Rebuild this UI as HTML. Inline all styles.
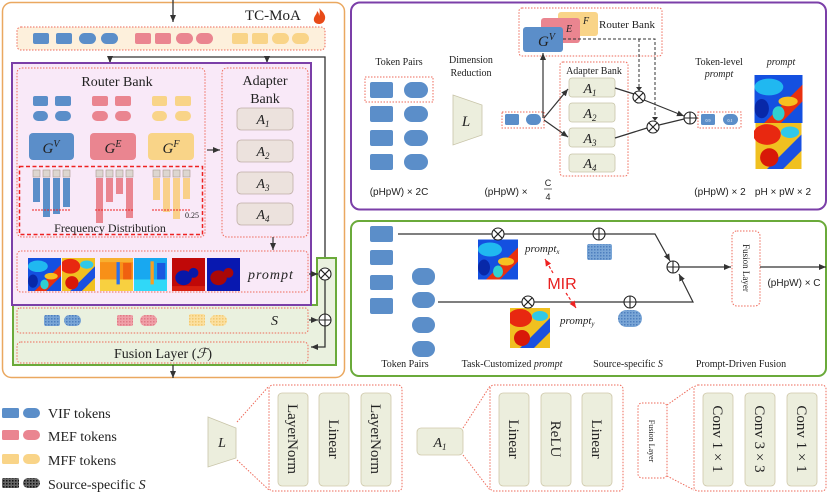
<!DOCTYPE html>
<html><head><meta charset="utf-8"><style>
html,body{margin:0;padding:0;background:#fff}
svg{display:block}
text{font-family:"Liberation Serif",serif;fill:#222}
.i{font-style:italic}
</style></head><body>
<svg width="830" height="494" viewBox="0 0 830 494" xmlns="http://www.w3.org/2000/svg">
<defs>
<marker id="ar" markerWidth="8" markerHeight="8" refX="7" refY="4" orient="auto" markerUnits="userSpaceOnUse"><path d="M0,1 L7,4 L0,7 z" fill="#333"/></marker>
<marker id="arr" markerWidth="8" markerHeight="8" refX="7" refY="4" orient="auto" markerUnits="userSpaceOnUse"><path d="M0,1 L7,4 L0,7 z" fill="#e22"/></marker>
<pattern id="hb" width="3" height="3" patternUnits="userSpaceOnUse"><rect width="3" height="3" fill="#7aa6d6"/><rect width="1.5" height="1.5" fill="#4d7fbe"/></pattern>
<pattern id="hp" width="3" height="3" patternUnits="userSpaceOnUse"><rect width="3" height="3" fill="#f0a0a8"/><rect width="1.5" height="1.5" fill="#e07a86"/></pattern>
<pattern id="hy" width="3" height="3" patternUnits="userSpaceOnUse"><rect width="3" height="3" fill="#fbe0a0"/><rect width="1.5" height="1.5" fill="#f2c870"/></pattern>
<pattern id="hk" width="3" height="3" patternUnits="userSpaceOnUse"><rect width="3" height="3" fill="#666"/><rect width="1.5" height="1.5" fill="#111"/></pattern>
<symbol id="hA" viewBox="0 0 40 40"><rect width="40" height="40" fill="#1450e0"/><ellipse cx="12" cy="10" rx="12" ry="7" fill="#20b8f0"/><path d="M8,40 L40,8 L40,22 L22,40z" fill="#e83010"/><ellipse cx="28" cy="22" rx="8" ry="4" fill="#f8c020"/><ellipse cx="6" cy="28" rx="6" ry="8" fill="#0828a8"/><ellipse cx="20" cy="32" rx="5" ry="6" fill="#30d0d0"/></symbol>
<symbol id="hB" viewBox="0 0 40 40"><rect width="40" height="40" fill="#f0c020"/><ellipse cx="10" cy="10" rx="12" ry="9" fill="#e82810"/><path d="M10,40 L40,10 L40,24 L24,40z" fill="#1a50e0"/><ellipse cx="12" cy="30" rx="8" ry="8" fill="#d81808"/><ellipse cx="30" cy="8" rx="8" ry="5" fill="#30c8e8"/></symbol>
<symbol id="hC" viewBox="0 0 40 40"><rect width="40" height="40" fill="#f89018"/><rect y="26" width="40" height="14" fill="#f8d040"/><rect x="20" y="4" width="4" height="28" fill="#2870f0"/><rect x="28" y="6" width="10" height="20" fill="#f06010"/><rect x="0" y="0" width="40" height="5" fill="#f8b030"/></symbol>
<symbol id="hD" viewBox="0 0 40 40"><rect width="40" height="40" fill="#18a8f0"/><rect y="26" width="40" height="14" fill="#30d8f8"/><rect x="20" y="4" width="4" height="28" fill="#f8a020"/><rect x="28" y="6" width="10" height="20" fill="#1858e0"/></symbol>
<symbol id="hE" viewBox="0 0 40 40"><rect width="40" height="40" fill="#c00808"/><ellipse cx="14" cy="24" rx="10" ry="9" fill="#0818a8"/><ellipse cx="26" cy="18" rx="6" ry="6" fill="#0818a8"/><rect x="0" y="34" width="40" height="6" fill="#d82010"/></symbol>
<symbol id="hF" viewBox="0 0 40 40"><rect width="40" height="40" fill="#0818b0"/><ellipse cx="14" cy="24" rx="10" ry="9" fill="#a80808"/><ellipse cx="26" cy="18" rx="6" ry="6" fill="#a80808"/></symbol>
</defs>

<!-- ===== LEFT PANEL ===== -->
<rect x="2.5" y="2.5" width="342" height="375" rx="9" fill="#fff" stroke="#eaa860" stroke-width="1.5"/>
<line x1="173" y1="0" x2="173" y2="22" stroke="#333" stroke-width="1.3" marker-end="url(#ar)"/>
<text x="245" y="20" font-size="15">TC-MoA</text>
<path d="M319,8 C323,12 326,15 325,19 C324,23 321,24 319,24 C316,24 313,22 314,18 C315,15 317,14 317,11 C319,13 319,14 319,16 C320,13 320,10 319,8z" fill="#e84a18"/>
<rect x="17" y="27" width="308" height="23" rx="4" fill="#fdf0dc" stroke="#ee6a5a" stroke-width="1" stroke-dasharray="1.5,1.5"/>
<g fill="#5b8ec9"><rect x="33" y="33" width="16" height="11" rx="2"/><rect x="56" y="33" width="16" height="11" rx="2"/><rect x="79" y="33" width="17" height="11" rx="5.5"/><rect x="101" y="33" width="17" height="11" rx="5.5"/></g>
<g fill="#ea8590"><rect x="135" y="33" width="16" height="11" rx="2"/><rect x="155" y="33" width="16" height="11" rx="2"/><rect x="176" y="33" width="17" height="11" rx="5.5"/><rect x="196" y="33" width="17" height="11" rx="5.5"/></g>
<g fill="#f9d488"><rect x="232" y="33" width="16" height="11" rx="2"/><rect x="252" y="33" width="16" height="11" rx="2"/><rect x="272" y="33" width="17" height="11" rx="5.5"/><rect x="292" y="33" width="17" height="11" rx="5.5"/></g>
<polyline points="110,62 110,57 325,57 325,267" fill="none" stroke="#333" stroke-width="1.3"/>
<line x1="110" y1="57" x2="110" y2="63" stroke="#333" stroke-width="1.3" marker-end="url(#ar)"/>
<line x1="267" y1="57" x2="267" y2="63" stroke="#333" stroke-width="1.3" marker-end="url(#ar)"/>

<!-- green box -->
<path d="M317,258 L336,258 L336,365 L13,365 L13,305 L317,305 z" fill="#eaf1df" stroke="#6aaa3a" stroke-width="2"/>
<!-- purple box -->
<rect x="12" y="63" width="299" height="242" fill="#f9e9f8" stroke="#7b3fa8" stroke-width="2"/>

<!-- router bank -->
<rect x="17" y="68" width="188" height="169" rx="5" fill="none" stroke="#ee6a5a" stroke-width="1" stroke-dasharray="1.5,1.5"/>
<text x="117" y="86" font-size="14" text-anchor="middle">Router Bank</text>
<g fill="#5b8ec9"><rect x="33" y="96" width="15" height="10" rx="2"/><rect x="55" y="96" width="16" height="10" rx="2"/><rect x="33" y="111" width="15" height="10" rx="5"/><rect x="55" y="111" width="16" height="10" rx="5"/></g>
<g fill="#ea8590"><rect x="92" y="96" width="16" height="10" rx="2"/><rect x="115" y="96" width="16" height="10" rx="2"/><rect x="92" y="111" width="16" height="10" rx="5"/><rect x="115" y="111" width="16" height="10" rx="5"/></g>
<g fill="#f9d488"><rect x="152" y="96" width="15" height="10" rx="2"/><rect x="175" y="96" width="16" height="10" rx="2"/><rect x="152" y="111" width="15" height="10" rx="5"/><rect x="175" y="111" width="16" height="10" rx="5"/></g>
<rect x="29" y="133" width="45" height="27" rx="4" fill="#5b8ec9"/>
<rect x="90" y="133" width="46" height="27" rx="4" fill="#ea8590"/>
<rect x="148" y="133" width="46" height="27" rx="4" fill="#f9d488"/>
<text x="51" y="153" font-size="15" class="i" text-anchor="middle">G<tspan font-size="10" dy="-6">V</tspan></text>
<text x="113" y="153" font-size="15" class="i" text-anchor="middle">G<tspan font-size="10" dy="-6">E</tspan></text>
<text x="171" y="153" font-size="15" class="i" text-anchor="middle">G<tspan font-size="10" dy="-6">F</tspan></text>
<line x1="207" y1="150" x2="220" y2="150" stroke="#333" stroke-width="1.2" marker-end="url(#ar)"/>
<!-- frequency -->
<rect x="19.5" y="166.5" width="183" height="68" fill="none" stroke="#ee2222" stroke-width="1.5" stroke-dasharray="4,2.5"/>
<g fill="#ddd6d0" stroke="#a89890" stroke-width="0.6">
<rect x="33" y="170" width="7" height="7"/><rect x="43" y="170" width="7" height="7"/><rect x="53" y="170" width="7" height="7"/><rect x="63" y="170" width="7" height="7"/>
<rect x="96" y="170" width="7" height="7"/><rect x="106" y="170" width="7" height="7"/><rect x="116" y="170" width="7" height="7"/><rect x="126" y="170" width="7" height="7"/>
<rect x="153" y="170" width="7" height="7"/><rect x="163" y="170" width="7" height="7"/><rect x="173" y="170" width="7" height="7"/><rect x="183" y="170" width="7" height="7"/></g>
<g fill="#5b8ec9"><rect x="33" y="178" width="7" height="24"/><rect x="43" y="178" width="7" height="39"/><rect x="53" y="178" width="7" height="36"/><rect x="63" y="178" width="7" height="29"/></g>
<g fill="#ea8590"><rect x="96" y="178" width="7" height="45"/><rect x="106" y="178" width="7" height="24"/><rect x="116" y="178" width="7" height="16"/><rect x="126" y="178" width="7" height="40"/></g>
<g fill="#f9d08a"><rect x="153" y="178" width="7" height="22"/><rect x="163" y="178" width="7" height="34"/><rect x="173" y="178" width="7" height="41"/><rect x="183" y="178" width="7" height="21"/></g>
<g stroke="#e22" stroke-width="1" stroke-dasharray="2,1"><line x1="32" y1="210" x2="71" y2="210"/><line x1="95" y1="210" x2="134" y2="210"/><line x1="152" y1="210" x2="191" y2="210"/></g>
<text x="185" y="218" font-size="8">0.25</text>
<text x="110" y="232" font-size="12" text-anchor="middle">Frequency Distribution</text>

<!-- adapter bank -->
<rect x="222" y="68" width="86" height="169" rx="5" fill="none" stroke="#ee6a5a" stroke-width="1" stroke-dasharray="1.5,1.5"/>
<text x="265" y="85" font-size="14" text-anchor="middle">Adapter</text>
<text x="265" y="103" font-size="14" text-anchor="middle">Bank</text>
<g fill="#ece2dd" stroke="#bfaea6" stroke-width="0.8">
<rect x="237" y="108" width="56" height="22" rx="4"/><rect x="237" y="140" width="56" height="22" rx="4"/><rect x="237" y="172" width="56" height="22" rx="4"/><rect x="237" y="203" width="56" height="22" rx="4"/></g>
<g font-size="14" class="i" text-anchor="middle">
<text x="263" y="124" class="i">A<tspan font-size="9" dy="3">1</tspan></text>
<text x="263" y="156" class="i">A<tspan font-size="9" dy="3">2</tspan></text>
<text x="263" y="188" class="i">A<tspan font-size="9" dy="3">3</tspan></text>
<text x="263" y="219" class="i">A<tspan font-size="9" dy="3">4</tspan></text></g>
<line x1="273" y1="237" x2="273" y2="250" stroke="#333" stroke-width="1.2" marker-end="url(#ar)"/>
<!-- prompt -->
<rect x="17" y="251" width="291" height="41" rx="4" fill="none" stroke="#ee6a5a" stroke-width="1" stroke-dasharray="1.5,1.5"/>
<use href="#hA" x="28" y="258" width="33" height="33"/>
<use href="#hB" x="62" y="258" width="33" height="33"/>
<use href="#hC" x="100" y="258" width="33" height="33"/>
<use href="#hD" x="134" y="258" width="33" height="33"/>
<use href="#hE" x="172" y="258" width="33" height="33"/>
<use href="#hF" x="207" y="258" width="33" height="33"/>
<text x="248" y="279" font-size="14" class="i" letter-spacing="1">prompt</text>
<line x1="309" y1="274" x2="318" y2="274" stroke="#333" stroke-width="1.2" marker-end="url(#ar)"/>
<!-- S -->
<rect x="17" y="308" width="291" height="25" rx="3" fill="none" stroke="#ee6a5a" stroke-width="1" stroke-dasharray="1.5,1.5"/>
<rect x="44" y="315" width="16" height="11" rx="2" fill="url(#hb)"/><rect x="64" y="315" width="17" height="11" rx="5.5" fill="url(#hb)"/>
<rect x="117" y="315" width="16" height="11" rx="2" fill="url(#hp)"/><rect x="140" y="315" width="17" height="11" rx="5.5" fill="url(#hp)"/>
<rect x="189" y="314" width="16" height="12" rx="2" fill="url(#hy)"/><rect x="210" y="315" width="17" height="11" rx="5.5" fill="url(#hy)"/>
<text x="271" y="325" font-size="14" class="i">S</text>
<line x1="309" y1="320" x2="318" y2="320" stroke="#333" stroke-width="1.2" marker-end="url(#ar)"/>
<!-- fusion -->
<rect x="17" y="342" width="291" height="21" rx="4" fill="none" stroke="#ee6a5a" stroke-width="1" stroke-dasharray="1.5,1.5"/>
<text x="163" y="358" font-size="14" text-anchor="middle">Fusion Layer (<tspan class="i">ℱ</tspan>)</text>
<polyline points="325,326 325,347 311,347" fill="none" stroke="#333" stroke-width="1.3" marker-end="url(#ar)"/>
<line x1="325" y1="280" x2="325" y2="314" stroke="#333" stroke-width="1.3"/>
<g fill="#fff" stroke="#222" stroke-width="1.1">
<circle cx="325" cy="274" r="6"/><circle cx="325" cy="320" r="6"/></g>
<path d="M320.8,269.8 L329.2,278.2 M329.2,269.8 L320.8,278.2 M319,320 L331,320 M325,314 L325,326" stroke="#222" stroke-width="1.1"/>
<line x1="173" y1="365" x2="173" y2="378" stroke="#333" stroke-width="1.3" marker-end="url(#ar)"/>

<!-- ===== RIGHT TOP PANEL ===== -->
<rect x="351" y="2.5" width="475" height="207" rx="9" fill="#fff" stroke="#7b3fa8" stroke-width="2"/>
<rect x="519" y="8" width="143" height="48" rx="3" fill="none" stroke="#ee6a5a" stroke-width="1" stroke-dasharray="1.5,1.5"/>
<rect x="558" y="12" width="40" height="24" rx="3" fill="#f9d488"/>
<rect x="541" y="18" width="39" height="25" rx="3" fill="#ea8590"/>
<rect x="523" y="27" width="40" height="25" rx="3" fill="#5b8ec9"/>
<text x="583" y="24" font-size="10" class="i">F</text>
<text x="566" y="32" font-size="10" class="i">E</text>
<text x="538" y="46" font-size="15" class="i">G<tspan font-size="10" dy="-6">V</tspan></text>
<text x="627" y="28" font-size="11" text-anchor="middle">Router Bank</text>
<text x="399" y="65" font-size="10" text-anchor="middle">Token Pairs</text>
<text x="471" y="63" font-size="10" text-anchor="middle">Dimension</text>
<text x="471" y="76" font-size="10" text-anchor="middle">Reduction</text>
<rect x="365" y="77" width="68" height="25" fill="none" stroke="#ee6a5a" stroke-width="1" stroke-dasharray="1.5,1.5"/>
<g fill="#5b8ec9">
<rect x="370" y="82" width="23" height="16" rx="2"/><rect x="404" y="82" width="24" height="16" rx="8"/>
<rect x="370" y="106" width="23" height="16" rx="2"/><rect x="404" y="106" width="24" height="16" rx="8"/>
<rect x="370" y="130" width="23" height="16" rx="2"/><rect x="404" y="130" width="24" height="16" rx="8"/>
<rect x="370" y="154" width="23" height="16" rx="2"/><rect x="404" y="154" width="24" height="16" rx="8"/></g>
<path d="M453,95 L482,105 L482,135 L453,145 z" fill="#eceedd" stroke="#c8c4a8" stroke-width="0.8"/>
<text x="466" y="126" font-size="15" class="i" text-anchor="middle">L</text>
<rect x="502" y="112" width="42" height="16" fill="none" stroke="#ee6a5a" stroke-width="1" stroke-dasharray="1.5,1.5"/>
<rect x="505" y="114" width="14" height="11" rx="1.5" fill="#5b8ec9"/><rect x="526" y="114" width="15" height="11" rx="5.5" fill="#5b8ec9"/>
<line x1="543" y1="118" x2="543" y2="53" stroke="#333" stroke-width="1.2" marker-end="url(#ar)"/>
<line x1="544" y1="118" x2="568" y2="89" stroke="#333" stroke-width="1.2" marker-end="url(#ar)"/>
<line x1="544" y1="120" x2="568" y2="137" stroke="#333" stroke-width="1.2" marker-end="url(#ar)"/>
<rect x="560" y="62" width="68" height="114" rx="3" fill="none" stroke="#ee6a5a" stroke-width="1" stroke-dasharray="1.5,1.5"/>
<text x="594" y="74" font-size="10" text-anchor="middle">Adapter Bank</text>
<g fill="#eceedd" stroke="#c8c4a8" stroke-width="0.8">
<rect x="569" y="78" width="46" height="19" rx="3"/><rect x="569" y="103" width="46" height="19" rx="3"/><rect x="569" y="128" width="46" height="19" rx="3"/><rect x="569" y="154" width="46" height="18" rx="3"/></g>
<g font-size="14" text-anchor="middle">
<text x="590" y="93" class="i">A<tspan font-size="9" dy="3">1</tspan></text>
<text x="590" y="118" class="i">A<tspan font-size="9" dy="3">2</tspan></text>
<text x="590" y="143" class="i">A<tspan font-size="9" dy="3">3</tspan></text>
<text x="590" y="168" class="i">A<tspan font-size="9" dy="3">4</tspan></text></g>
<g fill="none" stroke="#333" stroke-width="1" stroke-dasharray="3,2">
<polyline points="563,39 655,39 655,120"/><line x1="639" y1="39" x2="639" y2="90"/></g>
<path d="M636,87 L639,91 L642,87z M652,117 L655,121 L658,117z" fill="#333"/>
<polyline points="615,88 634,94" fill="none" stroke="#333" stroke-width="1.2"/>
<line x1="644" y1="100" x2="684" y2="116" stroke="#333" stroke-width="1.2" marker-end="url(#ar)"/>
<polyline points="615,138 647,128" fill="none" stroke="#333" stroke-width="1.2"/>
<line x1="659" y1="125" x2="684" y2="119" stroke="#333" stroke-width="1.2"/>
<line x1="696" y1="118" x2="698" y2="118" stroke="#333" stroke-width="1.2"/>
<g fill="#fff" stroke="#222" stroke-width="1.1"><circle cx="639" cy="97" r="6"/><circle cx="653" cy="127" r="6"/><circle cx="690" cy="118" r="6"/></g>
<path d="M634.8,92.8 L643.2,101.2 M643.2,92.8 L634.8,101.2 M648.8,122.8 L657.2,131.2 M657.2,122.8 L648.8,131.2 M684,118 L696,118 M690,112 L690,124" stroke="#222" stroke-width="1.1"/>
<rect x="698" y="112" width="43" height="16" fill="none" stroke="#ee6a5a" stroke-width="1" stroke-dasharray="1.5,1.5"/>
<rect x="701" y="114" width="14" height="11" rx="1.5" fill="#5b8ec9"/><rect x="723" y="114" width="15" height="11" rx="5.5" fill="#5b8ec9"/>
<text x="708" y="122" font-size="4" fill="#fff" style="fill:#fff" text-anchor="middle">0.9</text>
<text x="730" y="122" font-size="4" style="fill:#fff" text-anchor="middle">0.1</text>
<text x="719" y="65" font-size="10" text-anchor="middle">Token-level</text>
<text x="719" y="77" font-size="10" class="i" text-anchor="middle">prompt</text>
<text x="781" y="65" font-size="10" class="i" text-anchor="middle">prompt</text>
<use href="#hA" x="754" y="75" width="49" height="48"/>
<use href="#hB" x="754" y="123" width="49" height="46"/>
<g font-size="10" font-family="Liberation Sans" text-anchor="middle">
<text x="399" y="195" style="font-family:'Liberation Sans'">(pHpW) × 2C</text>
<text x="720" y="195" style="font-family:'Liberation Sans'">(pHpW) × 2</text>
<text x="783" y="195" style="font-family:'Liberation Sans'">pH × pW × 2</text>
<text x="506" y="195" style="font-family:'Liberation Sans'">(pHpW) ×</text>
<text x="548" y="186" font-size="9" style="font-family:'Liberation Sans'">C</text>
<text x="548" y="200" font-size="9" style="font-family:'Liberation Sans'">4</text></g>
<line x1="544" y1="189" x2="552" y2="189" stroke="#333" stroke-width="0.7"/>

<!-- ===== RIGHT MIDDLE PANEL ===== -->
<rect x="351" y="221" width="475" height="155" rx="8" fill="#fff" stroke="#6aaa3a" stroke-width="2"/>
<g fill="#5b8ec9">
<rect x="370" y="226" width="23" height="16" rx="2"/><rect x="370" y="250" width="23" height="15" rx="2"/><rect x="370" y="275" width="23" height="15" rx="2"/><rect x="370" y="298" width="23" height="16" rx="2"/>
<rect x="412" y="268" width="23" height="17" rx="8"/><rect x="412" y="292" width="23" height="16" rx="8"/><rect x="412" y="317" width="23" height="16" rx="8"/><rect x="412" y="341" width="23" height="16" rx="8"/></g>
<polyline points="398,234 655,234 670,261" fill="none" stroke="#333" stroke-width="1.2" marker-end="url(#ar)"/>
<polyline points="438,302 693,302 679,274" fill="none" stroke="#333" stroke-width="1.2" marker-end="url(#ar)"/>
<use href="#hA" x="478" y="239" width="40" height="41"/>
<use href="#hB" x="510" y="308" width="40" height="40"/>
<rect x="587" y="244" width="25" height="16" rx="2" fill="url(#hb)"/>
<rect x="618" y="310" width="24" height="17" rx="8.5" fill="url(#hb)"/>
<g fill="#fff" stroke="#222" stroke-width="1.1"><circle cx="498" cy="234" r="6"/><circle cx="599" cy="234" r="6"/><circle cx="528" cy="302" r="6"/><circle cx="630" cy="302" r="6"/><circle cx="673" cy="267" r="6"/></g>
<path d="M493.8,229.8 L502.2,238.2 M502.2,229.8 L493.8,238.2 M523.8,297.8 L532.2,306.2 M532.2,297.8 L523.8,306.2 M593,234 L605,234 M599,228 L599,240 M624,302 L636,302 M630,296 L630,308 M667,267 L679,267 M673,261 L673,273" stroke="#222" stroke-width="1.1"/>
<text x="525" y="252" font-size="11" class="i">prompt<tspan font-size="7" dy="2">x</tspan></text>
<text x="560" y="324" font-size="11" class="i">prompt<tspan font-size="7" dy="2">y</tspan></text>
<text x="562" y="289" font-size="16" text-anchor="middle" style="fill:#e82020;font-family:'Liberation Sans'">MIR</text>
<line x1="553" y1="273" x2="545" y2="259" stroke="#e22" stroke-width="1.2" stroke-dasharray="3,2" marker-end="url(#arr)"/>
<line x1="566" y1="293" x2="576" y2="308" stroke="#e22" stroke-width="1.2" stroke-dasharray="3,2" marker-end="url(#arr)"/>
<line x1="679" y1="267" x2="731" y2="267" stroke="#333" stroke-width="1.2" marker-end="url(#ar)"/>
<rect x="732" y="231" width="28" height="75" rx="5" fill="none" stroke="#ee6a5a" stroke-width="1" stroke-dasharray="1.5,1.5"/>
<text transform="translate(743,268) rotate(90)" font-size="9" text-anchor="middle">Fusion Layer</text>
<line x1="760" y1="267" x2="826" y2="267" stroke="#333" stroke-width="1.2" marker-end="url(#ar)"/>
<text x="794" y="286" font-size="10" text-anchor="middle" style="font-family:'Liberation Sans'">(pHpW) × C</text>
<g font-size="10" text-anchor="middle">
<text x="405" y="367">Token Pairs</text>
<text x="512" y="367">Task-Customized <tspan class="i">prompt</tspan></text>
<text x="628" y="367">Source-specific <tspan class="i">S</tspan></text>
<text x="741" y="367">Prompt-Driven Fusion</text></g>

<!-- ===== BOTTOM ===== -->
<g>
<rect x="2" y="408" width="17" height="10" rx="1.5" fill="#5b8ec9"/><rect x="23" y="408" width="17" height="10" rx="5" fill="#5b8ec9"/>
<rect x="2" y="430" width="17" height="10" rx="1.5" fill="#ea8590"/><rect x="23" y="430" width="17" height="10" rx="5" fill="#ea8590"/>
<rect x="2" y="454" width="17" height="10" rx="1.5" fill="#f9d488"/><rect x="23" y="454" width="17" height="10" rx="5" fill="#f9d488"/>
<rect x="2" y="478" width="17" height="10" rx="1.5" fill="url(#hk)"/><rect x="23" y="478" width="17" height="10" rx="5" fill="url(#hk)"/>
<g font-size="14"><text x="48" y="418">VIF tokens</text><text x="48" y="441">MEF tokens</text><text x="48" y="465">MFF tokens</text><text x="48" y="489">Source-specific <tspan class="i">S</tspan></text></g>
</g>
<path d="M208,417 L236,428 L236,458 L208,467 z" fill="#eceedd" stroke="#c8c4a8" stroke-width="0.8"/>
<text x="222" y="447" font-size="14" class="i" text-anchor="middle">L</text>
<g stroke="#ee6a5a" stroke-width="1" stroke-dasharray="1.5,1.5" fill="none">
<line x1="237" y1="422" x2="269" y2="386"/><line x1="237" y1="460" x2="269" y2="490"/>
<rect x="269" y="385" width="133" height="106" rx="4"/>
<line x1="463" y1="428" x2="490" y2="386"/><line x1="463" y1="455" x2="490" y2="490"/>
<rect x="490" y="385" width="133" height="106" rx="4"/>
<rect x="638" y="403" width="29" height="75" rx="4"/>
<line x1="667" y1="405" x2="694" y2="386"/><line x1="667" y1="476" x2="694" y2="490"/>
<rect x="694" y="385" width="132" height="106" rx="4"/></g>
<g fill="#eceedd" stroke="#cfc8aa" stroke-width="0.8">
<rect x="278" y="393" width="30" height="93" rx="4"/><rect x="319" y="393" width="30" height="93" rx="4"/><rect x="361" y="393" width="30" height="93" rx="4"/>
<rect x="417" y="428" width="46" height="27" rx="4"/>
<rect x="499" y="393" width="30" height="93" rx="4"/><rect x="541" y="393" width="30" height="93" rx="4"/><rect x="582" y="393" width="30" height="93" rx="4"/>
<rect x="703" y="393" width="30" height="93" rx="4"/><rect x="745" y="393" width="30" height="93" rx="4"/><rect x="787" y="393" width="30" height="93" rx="4"/></g>
<text x="440" y="447" font-size="14" class="i" text-anchor="middle">A<tspan font-size="9" dy="3">1</tspan></text>
<g font-size="15" text-anchor="middle">
<text transform="translate(288,439) rotate(90)">LayerNorm</text>
<text transform="translate(329,439) rotate(90)">Linear</text>
<text transform="translate(371,439) rotate(90)">LayerNorm</text>
<text transform="translate(509,439) rotate(90)">Linear</text>
<text transform="translate(551,439) rotate(90)">ReLU</text>
<text transform="translate(592,439) rotate(90)">Linear</text>
<text transform="translate(713,439) rotate(90)">Conv 1 × 1</text>
<text transform="translate(755,439) rotate(90)">Conv 3 × 3</text>
<text transform="translate(797,439) rotate(90)">Conv 1 × 1</text></g>
<text transform="translate(649,441) rotate(90)" font-size="8" text-anchor="middle">Fusion Layer</text>
</svg>
</body></html>
